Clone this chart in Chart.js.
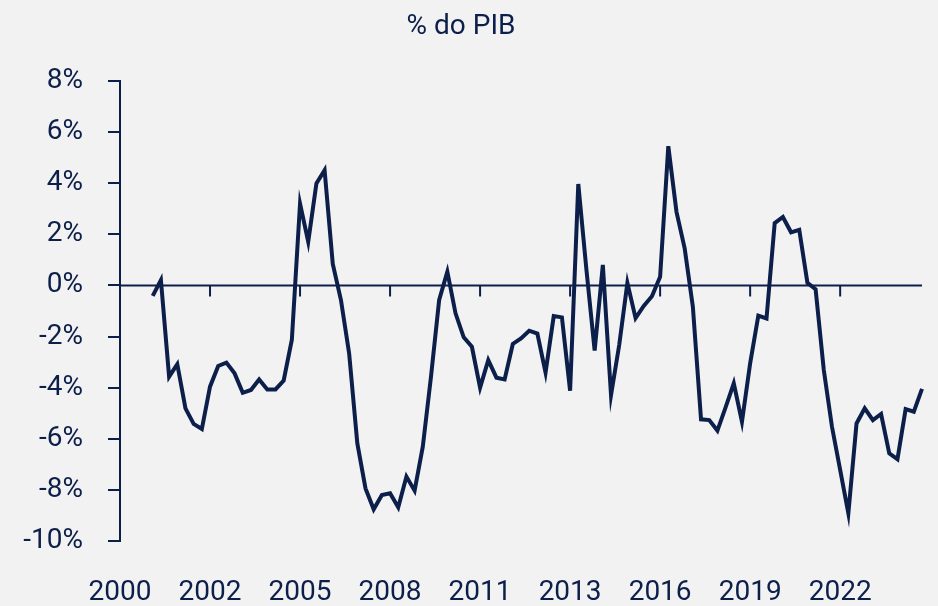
<!DOCTYPE html>
<html>
<head>
<meta charset="utf-8">
<script src="https://cdn.jsdelivr.net/npm/chart.js@4"></script>
<style>
  html, body { margin: 0; padding: 0; background: #f2f2f2; }
  #wrap { width: 938px; height: 606px; }
</style>
</head>
<body>
<div id="wrap"><canvas id="chart"></canvas></div>
<script>
// quarterly, 2000Q1 .. 2024Q3
var startYear = 2000;
var quarters = 99;
var tickEvery = 11;

// % do PIB, series starts in 2001Q1
var firstIndex = 4;
var values = [
  -0.41, 0.21, -3.57, -3.08, -4.81, -5.42, -5.62, -3.96, -3.15, -3.02,
  -3.44, -4.20, -4.09, -3.68, -4.07, -4.07, -3.72, -2.12, 3.20, 1.71,
  3.99, 4.51, 0.84, -0.57, -2.66, -6.18, -7.94, -8.76, -8.20, -8.13,
  -8.68, -7.48, -8.03, -6.31, -3.57, -0.57, 0.54, -1.09, -2.03, -2.40,
  -4.00, -2.92, -3.61, -3.68, -2.29, -2.07, -1.77, -1.88, -3.41, -1.20,
  -1.25, -4.12, 3.97, 0.60, -2.55, 0.80, -4.29, -2.33, 0.10, -1.28,
  -0.80, -0.42, 0.34, 5.45, 2.88, 1.45, -0.83, -5.24, -5.27, -5.68,
  -4.77, -3.83, -5.33, -3.05, -1.18, -1.29, 2.44, 2.68, 2.08, 2.18,
  0.10, -0.15, -3.31, -5.53, -7.22, -8.92, -5.40, -4.81, -5.27, -5.03,
  -6.57, -6.80, -4.84, -4.94, -4.05
];

var navy = '#0c1f4a';

var labels = [];
var data = [];
for (var i = 0; i < quarters; i++) {
  labels.push(startYear + Math.floor(i / 4) + 'T' + (i % 4 + 1));
  data.push(i >= firstIndex ? values[i - firstIndex] : null);
}

// zero line with little tick marks hanging from it
var zeroLine = {
  id: 'zeroLine',
  beforeDatasetsDraw: function(chart) {
    var ctx = chart.ctx;
    var area = chart.chartArea;
    var x = chart.scales.x;
    var y0 = chart.scales.y.getPixelForValue(0);
    ctx.save();
    ctx.strokeStyle = navy;
    ctx.lineWidth = 2;
    ctx.beginPath();
    ctx.moveTo(area.left, y0);
    ctx.lineTo(area.right, y0);
    for (var i = 0; i < quarters; i += tickEvery) {
      var px = x.getPixelForValue(i);
      ctx.moveTo(px, y0);
      ctx.lineTo(px, y0 + 11);
    }
    ctx.stroke();
    ctx.restore();
  }
};

var ctx = document.getElementById('chart').getContext('2d');
var chart = new Chart(ctx, {
  type: 'line',
  data: {
    labels: labels,
    datasets: [{
      label: '% do PIB',
      data: data,
      borderColor: navy,
      borderWidth: 4,
      pointRadius: 0,
      tension: 0,
      spanGaps: false
    }]
  },
  options: {
    responsive: true,
    maintainAspectRatio: false,
    animation: false,
    layout: { padding: { left: 0, right: 16, top: 0, bottom: 0 } },
    plugins: {
      legend: { display: false },
      tooltip: { enabled: false },
      title: {
        display: true,
        text: '% do PIB',
        color: navy,
        font: { family: 'Roboto', size: 28, weight: 'normal' },
        padding: { top: 10.5, bottom: 36.9 }
      }
    },
    scales: {
      x: {
        grid: { display: false },
        border: { display: false },
        ticks: {
          color: navy,
          font: { family: 'Roboto', size: 28 },
          autoSkip: false,
          maxRotation: 0,
          padding: 27,
          callback: function(val, index) {
            return index % tickEvery === 0 ? String(startYear + Math.floor(index / 4)) : '';
          }
        },
        afterFit: function(scale) {
          scale.height = 65;
          scale.paddingLeft = 0;
          scale.paddingRight = 0;
        }
      },
      y: {
        min: -10,
        max: 8,
        grid: {
          display: true,
          drawOnChartArea: false,
          drawTicks: true,
          tickLength: 12,
          color: navy,
          lineWidth: 2
        },
        border: { display: true, color: navy, width: 2 },
        ticks: {
          stepSize: 2,
          color: navy,
          padding: 25,
          font: { family: 'Roboto', size: 28 },
          callback: function(v) { return v + '%'; }
        },
        afterFit: function(scale) { scale.width = 120; }
      }
    }
  },
  plugins: [zeroLine]
});
</script>
</body>
</html>
